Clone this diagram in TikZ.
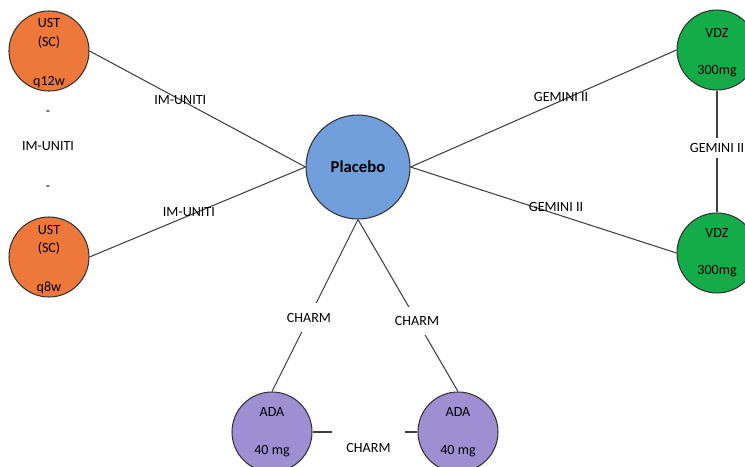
\documentclass[tikz,border=0pt]{standalone}
\usepackage{fontspec}
\setmainfont{Carlito}
\usepackage{xcolor}
\usepackage{tikz}

\definecolor{ustorange}{HTML}{EE7839}
\definecolor{plablue}{HTML}{719FDB}
\definecolor{vdzgreen}{HTML}{14AC48}
\definecolor{adapurple}{HTML}{A08ED2}

\begin{document}
\begin{tikzpicture}[x=0.02cm,y=-0.02cm,
  trt/.style={circle, draw=black!80, line width=0.6pt, minimum size=1.6cm, inner sep=0pt, align=center, font=\fontsize{8}{9.6}\selectfont},
  lbl/.style={font=\fontsize{8}{9.6}\selectfont, inner sep=1pt},
  gaplbl/.style={lbl, fill=white, inner xsep=2pt, inner ysep=5.5pt},
  edge/.style={draw=black!75, line width=0.6pt}]
\useasboundingbox (0,0) rectangle (745,467);
% Treatments
\node[trt, fill=plablue, minimum size=2.08cm, font=\fontsize{9.5}{11}\selectfont\bfseries] (pla) at (358,167) {Placebo};
\node[trt, fill=ustorange] (ust1) at (49,51) {\mbox{}\\[-1.7pt]UST\\[1.2pt](SC)\\[12.4pt]q12w};
\node[trt, fill=ustorange] (ust2) at (49,257) {\mbox{}\\[-1.7pt]UST\\[1.2pt](SC)\\[12.4pt]q8w};
\node[trt, fill=vdzgreen] (vdz1) at (717,50) {\mbox{}\\[-1pt]VDZ\\[11.4pt]300mg};
\node[trt, fill=vdzgreen] (vdz2) at (717,253) {VDZ\\[11.4pt]300mg};
\node[trt, fill=adapurple] (ada1) at (272,432) {ADA\\[12pt]40 mg};
\node[trt, fill=adapurple] (ada2) at (458,432) {ADA\\[12pt]40 mg};
% Text between the UST doses
\node[lbl] (dash1) at (48,113) {-};
\node[lbl] (imu0) at (48,146) {IM-UNITI};
\node[lbl] (dash2) at (48,188) {-};
% Trials
\draw[edge] (ust1.east) -- node[lbl, pos=0.42] (imu1) {IM-UNITI} (pla.west);
\draw[edge] (ust2.east) -- node[lbl, pos=0.46, yshift=0.08cm] (imu2) {IM-UNITI} (pla.west);
\draw[edge] (pla.east) -- node[lbl, pos=0.566, yshift=0.08cm] (gem1) {GEMINI II} (vdz1.west);
\draw[edge] (pla.east) -- node[lbl, pos=0.547, yshift=0.14cm] (gem2) {GEMINI II} (vdz2.west);
\draw[edge] (vdz1) -- node[gaplbl, pos=0.47, inner ysep=3pt] (gem3) {GEMINI II} (vdz2);
\draw[edge] (pla.south) -- node[gaplbl, pos=0.57] (charm1) {CHARM} (ada1.north);
\draw[edge] (pla.south) -- node[gaplbl, pos=0.59] (charm2) {CHARM} (ada2.north);
\draw[edge] (ada1) -- node[midway, xshift=0.07cm, fill=white, minimum width=1.46cm, minimum height=4pt, inner sep=0pt,
  label={[lbl, label distance=0.1cm]below:CHARM}] (charm3) {} (ada2);
\end{tikzpicture}
\end{document}
